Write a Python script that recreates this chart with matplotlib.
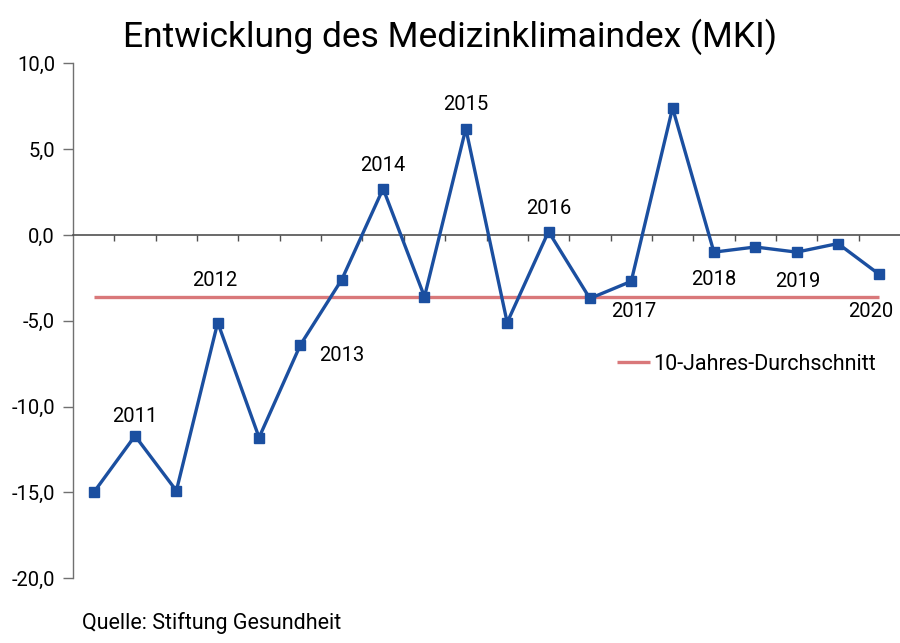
import matplotlib
matplotlib.use("Agg")
import matplotlib.pyplot as plt
import numpy as np

# ---- data ----
values = [-15.0, -11.7, -14.9, -5.1, -11.8, -6.4, -2.6, 2.7, -3.6, 6.2,
          -5.1, 0.2, -3.7, -2.7, 7.4, -1.0, -0.7, -1.0, -0.5, -2.3]
average = -3.6
year_labels = ["2011", "2012", "2013", "2014", "2015", "2016", "2017", "2018", "2019", "2020"]
yticks = [10, 5, 0, -5, -10, -15, -20]
ytick_labels = ["10,0", "5,0", "0,0", "-5,0", "-10,0", "-15,0", "-20,0"]
title = "Entwicklung des Medizinklimaindex (MKI)"
legend_label = "10-Jahres-Durchschnitt"
source = "Quelle: Stiftung Gesundheit"

# ---- layout (label positions in data coordinates) ----
label_pos = [(1.0, -10.6), (2.93, -2.67), (6.0, -7.0), (7.0, 4.05), (9.0, 7.6),
             (11.0, 1.57), (13.07, -4.47), (15.0, -2.6), (17.03, -2.7), (18.8, -4.47)]

plt.rcParams['font.family'] = ['Roboto', 'DejaVu Sans']

fig = plt.figure(figsize=(9, 6.43), dpi=100)
ax = fig.add_axes([73/900, 1-578.3/643, 1-73/900, (578.3-63.3)/643])

x = np.arange(len(values))
blue = "#1B4FA0"
red = "#D9787A"

ax.plot([x[0], x[-1]], [average, average], color=red, lw=2.4, solid_capstyle='butt',
        label=legend_label, zorder=2)
ax.plot(x, values, color=blue, lw=2.4, marker='s', markersize=6.5,
        markerfacecolor=blue, markeredgecolor=blue, zorder=3)

for lab, (lx, ly) in zip(year_labels, label_pos):
    ax.text(lx, ly, lab, ha='center', va='center', fontsize=14.5, color='black')

ax.set_xlim(-0.5, len(values) - 0.5)
ax.set_ylim(-20, 10)

for s in ['top', 'right']:
    ax.spines[s].set_visible(False)
ax.spines['left'].set_color('#707070')
ax.spines['left'].set_linewidth(1.0)
ax.spines['bottom'].set_position(('data', 0))
ax.spines['bottom'].set_color('#505050')
ax.spines['bottom'].set_linewidth(1.2)

ax.set_yticks(yticks)
ax.set_yticklabels(ytick_labels, fontsize=14.5)
ax.tick_params(axis='y', direction='out', length=7, width=1, color='#707070', pad=6)
ax.set_xticks(np.arange(0.5, len(values) - 0.5, 1.0))
ax.set_xticklabels([])
ax.tick_params(axis='x', direction='out', length=4, width=1, color='#505050')

leg = ax.legend(loc='center left', bbox_to_anchor=((617-73)/827, (578.3-364)/515),
                frameon=False, fontsize=15.5, handlelength=1.55, handletextpad=0.15,
                borderaxespad=0, borderpad=0)

fig.text(0.5, 1-37/643, title, ha='center', va='center', fontsize=25.5)
fig.text(82/900, 1-623/643, source, ha='left', va='center', fontsize=15.5)

fig.savefig("out.png", dpi=100)
